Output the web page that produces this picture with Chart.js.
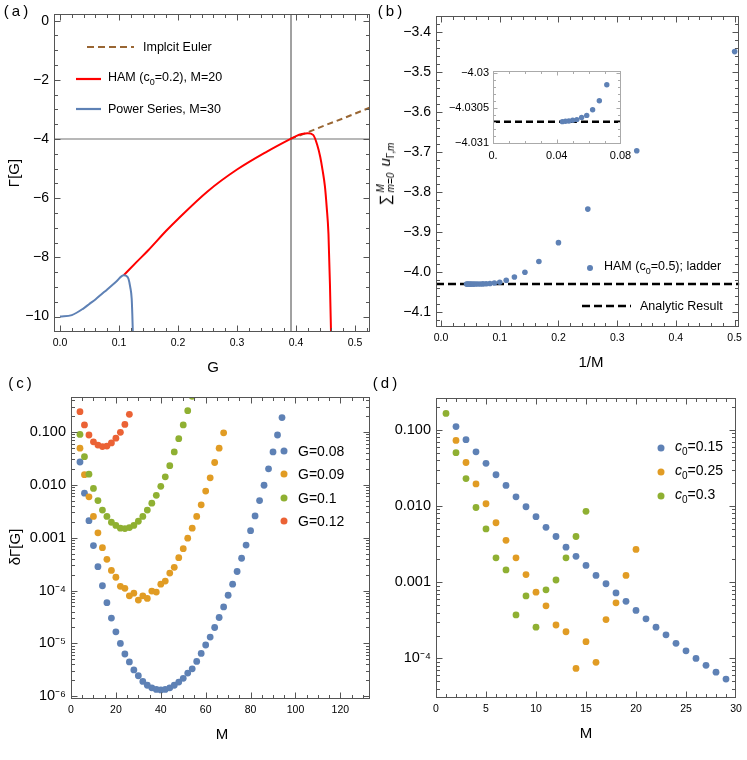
<!DOCTYPE html>
<html>
<head>
<meta charset="utf-8">
<script src="https://cdn.jsdelivr.net/npm/chart.js@4/dist/chart.umd.min.js"></script>
<style>
body { margin: 0; background: #fff; width: 747px; height: 760px; position: relative; overflow: hidden;
       font-family: "Liberation Sans", Arial, sans-serif; color: #000; }
canvas, .t, svg { position: absolute; }
.t { white-space: nowrap; line-height: 1; }
.c { transform: translate(-50%, -50%); }
.l { transform: translate(0, -50%); }
.lim { display: inline-flex; flex-direction: column; font-size: 10px; line-height: 1; vertical-align: middle; margin: 0 2px; font-style: italic; }
.dot { position: absolute; border-radius: 50%; transform: translate(-50%, -50%); }
</style>
</head>
<body>
<canvas id="ca" width="375" height="350" style="left:0;top:0"></canvas>
<canvas id="cb" width="372" height="350" style="left:375px;top:0"></canvas>
<canvas id="cbi" width="200" height="110" style="left:440px;top:60px"></canvas>
<canvas id="cc" width="375" height="385" style="left:0;top:375px"></canvas>
<canvas id="cd" width="372" height="385" style="left:375px;top:375px"></canvas>

<!-- panel labels -->
<div class="t c" style="left:16px;top:10px;font-size:15px">(&thinsp;a&thinsp;)</div>
<div class="t c" style="left:390px;top:10px;font-size:15px">(&thinsp;b&thinsp;)</div>
<div class="t c" style="left:20px;top:382px;font-size:15px">(&thinsp;c&thinsp;)</div>
<div class="t c" style="left:385px;top:382px;font-size:15px">(&thinsp;d&thinsp;)</div>

<!-- axis titles -->
<div class="t c" style="left:213px;top:366px;font-size:15px">G</div>
<div class="t" style="left:13px;top:173px;font-size:15px;transform:translate(-50%,-50%) rotate(-90deg)">Γ[G]</div>
<div class="t c" style="left:591px;top:361px;font-size:15px">1/M</div>
<div class="t" style="left:386px;top:174px;font-size:15px;transform:translate(-50%,-50%) rotate(-90deg)">∑<span class="lim"><span>M</span><span><i>m</i>=0</span></span> <i>u</i><sub style="font-size:10px">Γ,<i>m</i></sub></div>
<div class="t c" style="left:222px;top:733px;font-size:15px">M</div>
<div class="t" style="left:14px;top:547px;font-size:15px;transform:translate(-50%,-50%) rotate(-90deg)">δΓ[G]</div>
<div class="t c" style="left:586px;top:732px;font-size:15px">M</div>

<!-- legend (a) -->
<svg style="left:85px;top:40px" width="52" height="14"><line x1="2" y1="7" x2="49" y2="7" stroke="#996633" stroke-width="2" stroke-dasharray="7,4"/></svg>
<div class="t l" style="left:143px;top:47px;font-size:12.5px">Implcit Euler</div>
<svg style="left:74px;top:72px" width="30" height="14"><line x1="2" y1="7" x2="27" y2="7" stroke="#ff0000" stroke-width="2.2"/></svg>
<div class="t l" style="left:108px;top:79px;font-size:12.5px">HAM (c<sub style="font-size:9px">0</sub>=0.2), M=20</div>
<svg style="left:74px;top:102px" width="30" height="14"><line x1="2" y1="7" x2="27" y2="7" stroke="#5e81b5" stroke-width="2.2"/></svg>
<div class="t l" style="left:108px;top:109px;font-size:12.5px">Power Series, M=30</div>

<!-- legend (b) -->
<div class="dot" style="left:590px;top:268px;width:6px;height:6px;background:#5e81b5"></div>
<div class="t l" style="left:604px;top:268px;font-size:12.5px">HAM (c<sub style="font-size:9px">0</sub>=0.5); ladder</div>
<svg style="left:580px;top:299px" width="54" height="14"><line x1="2" y1="7" x2="51" y2="7" stroke="#000" stroke-width="2.5" stroke-dasharray="8,4"/></svg>
<div class="t l" style="left:640px;top:306px;font-size:12.5px">Analytic Result</div>

<!-- legend (c) -->
<div class="dot" style="left:284px;top:451px;width:7px;height:7px;background:#5e81b5"></div>
<div class="t l" style="left:298px;top:451px;font-size:14px">G=0.08</div>
<div class="dot" style="left:284px;top:474px;width:7px;height:7px;background:#e19c24"></div>
<div class="t l" style="left:298px;top:474px;font-size:14px">G=0.09</div>
<div class="dot" style="left:284px;top:498px;width:7px;height:7px;background:#8fb032"></div>
<div class="t l" style="left:298px;top:498px;font-size:14px">G=0.1</div>
<div class="dot" style="left:284px;top:521px;width:7px;height:7px;background:#eb6235"></div>
<div class="t l" style="left:298px;top:521px;font-size:14px">G=0.12</div>

<!-- legend (d) -->
<div class="dot" style="left:661px;top:448px;width:7px;height:7px;background:#5e81b5"></div>
<div class="t l" style="left:675px;top:448px;font-size:14px"><i>c</i><sub style="font-size:10px">0</sub>=0.15</div>
<div class="dot" style="left:661px;top:472px;width:7px;height:7px;background:#e19c24"></div>
<div class="t l" style="left:675px;top:472px;font-size:14px"><i>c</i><sub style="font-size:10px">0</sub>=0.25</div>
<div class="dot" style="left:661px;top:496px;width:7px;height:7px;background:#8fb032"></div>
<div class="t l" style="left:675px;top:496px;font-size:14px"><i>c</i><sub style="font-size:10px">0</sub>=0.3</div>

<script>
// ---- (a) Gamma[G] curves
var eulerG = [0.39, 0.42, 0.45, 0.48, 0.51, 0.53];
var eulerGamma = [-4.0, -3.77, -3.53, -3.30, -3.06, -2.90];
var hamG = [0.108, 0.13, 0.15, 0.18, 0.2, 0.25, 0.3, 0.35, 0.39, 0.40, 0.41, 0.42, 0.429, 0.436, 0.441, 0.445, 0.449, 0.452, 0.455, 0.4575, 0.4595];
var hamGamma = [-8.6, -8.15, -7.75, -7.1, -6.7, -5.77, -5.03, -4.43, -4.0, -3.9, -3.83, -3.80, -3.86, -4.2, -4.6, -5.05, -5.6, -6.3, -7.2, -8.9, -10.7];
var powerG = [0.0, 0.02, 0.04, 0.05, 0.06, 0.08, 0.095, 0.108, 0.112, 0.116, 0.119, 0.1215, 0.1225, 0.1235];
var powerGamma = [-10.0, -9.95, -9.72, -9.57, -9.42, -9.08, -8.82, -8.6, -8.62, -8.72, -9.0, -9.4, -9.9, -10.6];
var critG = 0.3915;
var refGamma = -4;
var aXTicks = [0, 0.1, 0.2, 0.3, 0.4, 0.5];
var aYTicks = [0, -2, -4, -6, -8, -10];

// ---- (b) partial sums vs 1/M (M = 2..23)
var invM = [0.5, 0.3333, 0.25, 0.2, 0.1667, 0.1429, 0.125, 0.1111, 0.1, 0.0909, 0.0833, 0.0769,
            0.0714, 0.0667, 0.0625, 0.0588, 0.0556, 0.0526, 0.05, 0.0476, 0.0455, 0.0435];
var partialSum = [-3.449, -3.697, -3.843, -3.927, -3.974, -4.001, -4.013, -4.021, -4.0262, -4.0281, -4.0291, -4.0298,
                  -4.03017, -4.0304, -4.03053, -4.03061, -4.03064, -4.03067, -4.03068, -4.03069, -4.030695, -4.0307];
var analyticResult = -4.0307;
var bXTicks = [0, 0.1, 0.2, 0.3, 0.4, 0.5];
var bYTicks = [-3.4, -3.5, -3.6, -3.7, -3.8, -3.9, -4.0, -4.1];
var insetXTicks = [0, 0.04, 0.08];
var insetYTicks = [-4.03, -4.0305, -4.031];

// ---- (c) error vs M for several G
var mEven = [4, 6, 8, 10, 12, 14, 16, 18, 20, 22, 24, 26, 28, 30, 32, 34, 36, 38, 40, 42, 44, 46, 48,
             50, 52, 54, 56, 58, 60, 62, 64, 66, 68, 70, 72, 74, 76, 78, 80, 82, 84, 86, 88, 90, 92, 94];
var errG008 = [2.69e-2, 6.92e-3, 2.09e-3, 7.08e-4, 2.82e-4, 1.23e-4, 5.89e-5, 3.02e-5, 1.66e-5, 1.0e-5, 6.31e-6,
               4.47e-6, 3.16e-6, 2.45e-6, 1.91e-6, 1.62e-6, 1.45e-6, 1.35e-6, 1.32e-6, 1.35e-6, 1.45e-6, 1.62e-6,
               1.86e-6, 2.19e-6, 2.75e-6, 3.31e-6, 4.57e-6, 6.46e-6, 9.33e-6, 1.32e-5, 2.0e-5, 3.09e-5, 4.9e-5,
               8.13e-5, 1.32e-4, 2.29e-4, 4.07e-4, 7.24e-4, 1.35e-3, 2.57e-3, 5.01e-3, 9.77e-3, 2.0e-2, 4.17e-2,
               8.71e-2, 0.186];
var errG009 = [4.9e-2, 1.55e-2, 5.89e-3, 2.51e-3, 1.23e-3, 6.46e-4, 3.89e-4, 2.4e-4, 1.78e-4, 1.2e-4, 1.1e-4,
               7.94e-5, 8.91e-5, 6.61e-5, 7.94e-5, 7.08e-5, 9.77e-5, 9.33e-5, 1.32e-4, 1.51e-4, 2.14e-4, 2.75e-4,
               4.17e-4, 6.17e-4, 9.77e-4, 1.51e-3, 2.51e-3, 4.17e-3, 7.59e-3, 1.35e-2, 2.63e-2, 4.9e-2, 9.55e-2];
var errG010 = [8.91e-2, 3.39e-2, 1.58e-2, 8.51e-3, 5.01e-3, 3.31e-3, 2.51e-3, 1.95e-3, 1.7e-3, 1.51e-3, 1.48e-3,
               1.55e-3, 1.7e-3, 2.04e-3, 2.51e-3, 3.31e-3, 4.47e-3, 6.31e-3, 9.33e-3, 1.41e-2, 2.29e-2, 4.17e-2,
               7.41e-2, 0.135, 0.251, 0.468];
var errG012 = [0.24, 0.135, 8.71e-2, 6.46e-2, 5.62e-2, 5.25e-2, 5.37e-2, 6.17e-2, 7.59e-2, 9.77e-2, 0.138, 0.214];
var logTicksC = [0.1, 0.01, 0.001, 1e-4, 1e-5, 1e-6];
var cXTicks = [0, 20, 40, 60, 80, 100, 120];

// ---- (d) error vs M for several c0
var mAll = [1, 2, 3, 4, 5, 6, 7, 8, 9, 10, 11, 12, 13, 14, 15, 16, 17, 18, 19, 20, 21, 22, 23, 24, 25, 26, 27, 28, 29];
var errC015 = [0.11, 0.0741, 0.0513, 0.0363, 0.0257, 0.0186, 0.0132, 9.77e-3, 7.24e-3, 5.25e-3, 3.98e-3, 2.88e-3,
               2.19e-3, 1.66e-3, 1.23e-3, 9.55e-4, 7.24e-4, 5.62e-4, 4.27e-4, 3.31e-4, 2.57e-4, 2.04e-4, 1.58e-4,
               1.26e-4, 1.0e-4, 8.13e-5, 6.61e-5, 5.37e-5];
var errC025 = [0.0724, 0.0372, 0.0195, 0.0107, 6.03e-3, 3.55e-3, 2.09e-3, 1.26e-3, 7.41e-4, 4.9e-4, 2.75e-4,
               2.24e-4, 7.41e-5, 1.66e-4, 8.91e-5, 3.24e-4, 5.37e-4, 1.23e-3, 2.69e-3];
var errC030 = [0.164, 0.0501, 0.0229, 9.55e-3, 5.01e-3, 2.09e-3, 1.45e-3, 3.72e-4, 6.61e-4, 2.57e-4, 7.94e-4,
               1.07e-3, 2.09e-3, 3.98e-3, 8.51e-3];
var logTicksD = [0.1, 0.01, 0.001, 1e-4];
var dXTicks = [0, 5, 10, 15, 20, 25, 30];

var BLUE = '#5e81b5', ORANGE = '#e19c24', GREEN = '#8fb032', RED = '#eb6235';
var FONT = '"Liberation Sans", Arial, sans-serif';

function pts(xs, ys) {
    return ys.map(function (y, i) { return { x: xs[i], y: y }; });
}
function steps(from, to, step) {
    var out = [];
    for (var v = from; v <= to + 1e-9; v += step) out.push(+v.toFixed(6));
    return out;
}
function logMinor(lo, hi) {
    var out = [];
    for (var e = lo; e <= hi; e++) {
        for (var k = 2; k <= 9; k++) out.push(k * Math.pow(10, e));
    }
    return out;
}
function minus(s) { return String(s).replace('-', '\u2212'); }
var SUP = { '-': '\u207b', '0': '\u2070', '1': '\u00b9', '2': '\u00b2', '3': '\u00b3', '4': '\u2074',
            '5': '\u2075', '6': '\u2076', '7': '\u2077', '8': '\u2078', '9': '\u2079' };
function logLabel(v) {
    if (v >= 0.001) return v.toFixed(3);
    var e = String(Math.round(Math.log10(v)));
    return '10' + e.split('').map(function (ch) { return SUP[ch]; }).join('');
}

// frame + inward ticks on all four sides, Mathematica style
var frameTicks = {
    id: 'frameTicks',
    afterDatasetsDraw: function (chart, args, opts) {
        var ctx = chart.ctx, a = chart.chartArea;
        var xs = chart.scales.x, ys = chart.scales.y;
        var L = Math.round(a.left) + 0.5, R = Math.round(a.right) - 0.5;
        var T = Math.round(a.top) + 0.5, B = Math.round(a.bottom) - 0.5;
        ctx.save();
        ctx.strokeStyle = opts.color;
        ctx.lineWidth = 1;
        ctx.beginPath();
        function vt(v, len) {
            var p = Math.round(xs.getPixelForValue(v)) + 0.5;
            if (p < L || p > R) return;
            ctx.moveTo(p, B); ctx.lineTo(p, B - len);
            ctx.moveTo(p, T); ctx.lineTo(p, T + len);
        }
        function ht(v, len) {
            var p = Math.round(ys.getPixelForValue(v)) + 0.5;
            if (p < T || p > B) return;
            ctx.moveTo(L, p); ctx.lineTo(L + len, p);
            ctx.moveTo(R, p); ctx.lineTo(R - len, p);
        }
        xs.ticks.forEach(function (t) { vt(t.value, opts.major); });
        ys.ticks.forEach(function (t) { ht(t.value, opts.major); });
        (opts.xMinor || []).forEach(function (v) { vt(v, opts.minor); });
        (opts.yMinor || []).forEach(function (v) { ht(v, opts.minor); });
        ctx.stroke();
        ctx.strokeRect(L, T, R - L, B - T);
        ctx.restore();
    }
};

function axis(o) {
    return {
        type: o.type || 'linear',
        position: o.pos,
        min: o.min,
        max: o.max,
        grid: { display: false, drawTicks: false },
        border: { display: false },
        afterBuildTicks: function (s) { s.ticks = o.ticks.map(function (v) { return { value: v }; }); },
        afterFit: function (s) { if (o.pos === 'bottom') s.height = o.size; else s.width = o.size; },
        ticks: {
            autoSkip: false, maxRotation: 0, minRotation: 0, padding: o.pad, color: '#000',
            font: { family: FONT, size: o.font }, callback: o.fmt
        }
    };
}

function base(padding, scales, frame) {
    return {
        responsive: false,
        animation: false,
        events: [],
        layout: { padding: padding },
        plugins: { legend: { display: false }, tooltip: { enabled: false }, frameTicks: frame },
        scales: scales
    };
}

// ---------- (a)
new Chart(document.getElementById('ca'), {
    type: 'scatter',
    data: {
        datasets: [
            { data: pts(powerG, powerGamma), showLine: true, borderColor: BLUE, borderWidth: 2, pointRadius: 0, clip: 0,
              cubicInterpolationMode: 'monotone' },
            { data: pts(hamG, hamGamma), showLine: true, borderColor: '#ff0000', borderWidth: 2, pointRadius: 0, clip: 0,
              cubicInterpolationMode: 'monotone' },
            { data: pts(eulerG, eulerGamma), showLine: true, borderColor: '#996633', borderWidth: 2, borderDash: [6, 4],
              pointRadius: 0, clip: 0, cubicInterpolationMode: 'monotone' },
            { data: [{ x: critG, y: -10.52 }, { x: critG, y: 0.226 }], showLine: true, borderColor: '#444', borderWidth: 1, pointRadius: 0 },
            { data: [{ x: -0.0102, y: refGamma }, { x: 0.5254, y: refGamma }], showLine: true, borderColor: '#a0a0a0', borderWidth: 1.5, pointRadius: 0 }
        ]
    },
    options: base({ top: 14, right: 5, left: 0, bottom: 0 }, {
        x: axis({ pos: 'bottom', min: -0.0102, max: 0.5254, ticks: aXTicks, size: 18, pad: 5, font: 10.5,
                  fmt: function (v) { return v.toFixed(1); } }),
        y: axis({ pos: 'left', min: -10.52, max: 0.226, ticks: aYTicks, size: 54, pad: 5, font: 14,
                  fmt: function (v) { return minus(v); } })
    }, { color: '#555', major: 6, minor: 3.5, xMinor: steps(0, 0.52, 0.02), yMinor: steps(-10.5, 0, 0.5) }),
    plugins: [frameTicks]
});

// ---------- (b)
new Chart(document.getElementById('cb'), {
    type: 'scatter',
    data: {
        datasets: [
            { data: pts(invM, partialSum), backgroundColor: BLUE, borderWidth: 0, pointRadius: 2.8 },
            { data: [{ x: -0.0085, y: analyticResult }, { x: 0.508, y: analyticResult }], showLine: true,
              borderColor: '#000', borderWidth: 2.5, borderDash: [8, 4], pointRadius: 0 }
        ]
    },
    options: base({ top: 16, right: 2, left: 0, bottom: 0 }, {
        x: axis({ pos: 'bottom', min: -0.0085, max: 0.508, ticks: bXTicks, size: 23, pad: 5, font: 10.5,
                  fmt: function (v) { return v.toFixed(1); } }),
        y: axis({ pos: 'left', min: -4.138, max: -3.36, ticks: bYTicks, size: 61, pad: 5, font: 14,
                  fmt: function (v) { return minus(v.toFixed(1)); } })
    }, { color: '#555', major: 6, minor: 3.5, xMinor: steps(0, 0.5, 0.02), yMinor: steps(-4.12, -3.36, 0.02) }),
    plugins: [frameTicks]
});

// ---------- (b) inset
new Chart(document.getElementById('cbi'), {
    type: 'scatter',
    data: {
        datasets: [
            { data: pts(invM, partialSum), backgroundColor: BLUE, borderWidth: 0, pointRadius: 2.7 },
            { data: [{ x: 0, y: analyticResult }, { x: 0.0803, y: analyticResult }], showLine: true,
              borderColor: '#000', borderWidth: 2.5, borderDash: [7, 4], pointRadius: 0 }
        ]
    },
    options: base({ top: 8, right: 19, left: 0, bottom: 0 }, {
        x: axis({ pos: 'bottom', min: 0, max: 0.0803, ticks: insetXTicks, size: 26, pad: 5, font: 11,
                  fmt: function (v) { return v === 0 ? '0.' : v.toFixed(2); } }),
        y: axis({ pos: 'left', min: -4.03102, max: -4.029968, ticks: insetYTicks, size: 53, pad: 4, font: 11,
                  fmt: function (v) { return minus(String(v)); } })
    }, { color: '#aaa', major: 4, minor: 2.5, xMinor: steps(0, 0.08, 0.01), yMinor: steps(-4.031, -4.03, 0.0001) }),
    plugins: [frameTicks]
});

// ---------- (c)
function dotSet(data, color) {
    return { data: data, backgroundColor: color, borderWidth: 0, pointRadius: 3.4, clip: 0 };
}
new Chart(document.getElementById('cc'), {
    type: 'scatter',
    data: {
        datasets: [
            dotSet(pts(mEven, errG012), RED),
            dotSet(pts(mEven, errG010), GREEN),
            dotSet(pts(mEven, errG009), ORANGE),
            dotSet(pts(mEven, errG008), BLUE)
        ]
    },
    options: base({ top: 22, right: 5, left: 0, bottom: 0 }, {
        x: axis({ pos: 'bottom', min: 0, max: 133.2, ticks: cXTicks, size: 61, pad: 5, font: 10.5,
                  fmt: function (v) { return String(v); } }),
        y: axis({ type: 'logarithmic', pos: 'left', min: 8.9e-7, max: 0.455, ticks: logTicksC, size: 71, pad: 5, font: 14.5,
                  fmt: logLabel })
    }, { color: '#555', major: 6, minor: 3.5, xMinor: steps(0, 130, 5), yMinor: logMinor(-7, -1) }),
    plugins: [frameTicks]
});

// ---------- (d)
new Chart(document.getElementById('cd'), {
    type: 'scatter',
    data: {
        datasets: [
            dotSet(pts(mAll, errC030), GREEN),
            dotSet(pts(mAll.slice(1), errC025), ORANGE),
            dotSet(pts(mAll.slice(1), errC015), BLUE)
        ]
    },
    options: base({ top: 23, right: 11, left: 0, bottom: 0 }, {
        x: axis({ pos: 'bottom', min: 0, max: 30, ticks: dXTicks, size: 62, pad: 5, font: 10.5,
                  fmt: function (v) { return String(v); } }),
        y: axis({ type: 'logarithmic', pos: 'left', min: 3.03e-5, max: 0.261, ticks: logTicksD, size: 61, pad: 5, font: 14.5,
                  fmt: logLabel })
    }, { color: '#555', major: 6, minor: 3.5, xMinor: steps(0, 30, 1), yMinor: logMinor(-5, -1) }),
    plugins: [frameTicks]
});
</script>
</body>
</html>
